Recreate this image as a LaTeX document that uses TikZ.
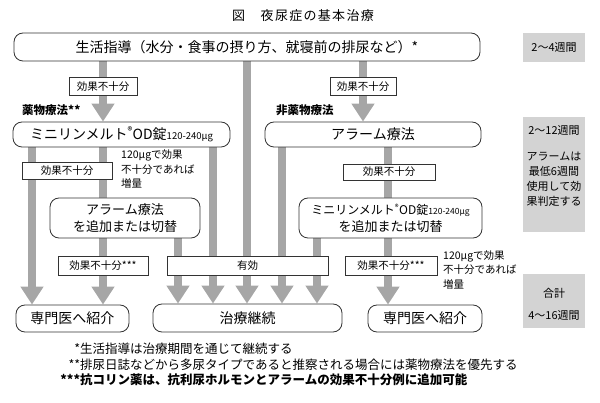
\documentclass[tikz,border=0pt]{standalone}
\usepackage{fontspec}
\setmainfont{Noto Sans CJK JP}
\newfontfamily\titlefont[LetterSpace=10]{Noto Sans CJK JP}
\usetikzlibrary{arrows.meta}
\pgfdeclarelayer{bg}
\pgfsetlayers{bg,main}
\definecolor{arrowgray}{HTML}{A6A6A6}
\definecolor{boxgray}{HTML}{D3D3D3}
\definecolor{edgegray}{HTML}{333333}
\newcommand{\fsz}[1]{\fontsize{#1}{#1}\selectfont}
\begin{document}
\begin{tikzpicture}[x=1pt,y=-1pt,
  mainbox/.style={draw=edgegray,line width=0.8pt,rounded corners=9pt,fill=white,inner sep=0pt,align=center},
  lblbox/.style={draw=edgegray,line width=0.7pt,fill=white,inner sep=0pt,align=center,font=\fsz{10.5}},
  graybox/.style={fill=boxgray,inner sep=0pt,minimum width=62pt,align=center,font=\fsz{11}},
  graytext/.style={inner sep=0pt,align=center,font=\fontsize{11}{15}\selectfont},
  notetext/.style={inner sep=0pt,align=left,font=\fontsize{10.5}{14.5}\selectfont},
  headtext/.style={inner sep=0pt,anchor=west,font=\fsz{11.5}\bfseries},
  foot/.style={inner sep=0pt,anchor=west,font=\fsz{12.5}},
  flow/.style={draw=arrowgray,line width=8pt,-{Triangle[width=22pt,length=18pt]}},
  shaft/.style={draw=arrowgray,line width=8pt}
]
\useasboundingbox (0,0) rectangle (600,403);

% title
\node[inner sep=0pt,font=\titlefont\fsz{13}] (title) at (303,16) {図　夜尿症の基本治療};

% main boxes
\node[mainbox,minimum width=466pt,minimum height=28pt,font=\fsz{14}] (top) at (247,47)
  {生活指導（水分・食事の摂り方、就寝前の排尿など）*};
\node[mainbox,minimum width=217pt,minimum height=25pt,font=\fsz{14}] (mini) at (121.5,134.5)
  {ミニリンメルト\textsuperscript{®}OD錠{\fsz{9.5}120-240μg}};
\node[mainbox,minimum width=216pt,minimum height=25pt,font=\fsz{14}] (alarm) at (373,134.5)
  {アラーム療法};
\node[mainbox,minimum width=150pt,minimum height=40pt,font=\fontsize{13}{16.5}\selectfont] (addalarm) at (125,218)
  {アラーム療法\\を追加または切替};
\node[mainbox,minimum width=183pt,minimum height=40pt,font=\fontsize{13}{16.5}\selectfont] (addmini) at (390.5,218)
  {{\fsz{12}ミニリンメルト\textsuperscript{®}OD錠{\fsz{8.5}120-240μg}}\\を追加または切替};
\node[mainbox,minimum width=113pt,minimum height=27pt,font=\fsz{14}] (sen1) at (72.5,318.5) {専門医へ紹介};
\node[mainbox,minimum width=189pt,minimum height=28pt,font=\fsz{14}] (cont) at (247.5,318) {治療継続};
\node[mainbox,minimum width=114pt,minimum height=27pt,font=\fsz{14}] (sen2) at (425,318.5) {専門医へ紹介};

% section headings
\node[headtext] (hdrug) at (22,110) {薬物療法**};
\node[headtext] (hnon) at (276,110) {非薬物療法};

% column coordinates
\coordinate (x32) at (32,0);
\coordinate (x103) at (103,0);
\coordinate (x178) at (178,0);
\coordinate (x213) at (213,0);
\coordinate (x247) at (247,0);
\coordinate (x282) at (282,0);
\coordinate (x317) at (317,0);
\coordinate (x363) at (363,0);
\coordinate (x388) at (388,0);

% connectors
\begin{pgfonlayer}{bg}
\draw[flow] (top.south -| x103) -- (mini.north -| x103);
\draw[flow] (top.south -| x363) -- (alarm.north -| x363);
\draw[flow] (top.south -| x247) -- (cont.north -| x247);
\draw[flow] (mini.south -| x32) -- (sen1.north -| x32);
\draw[shaft] (mini.south -| x103) -- (addalarm.north -| x103);
\draw[flow] (mini.south -| x213) -- (cont.north -| x213);
\draw[flow] (addalarm.south -| x103) -- (sen1.north -| x103);
\draw[flow] (addalarm.south -| x178) -- (cont.north -| x178);
\draw[flow] (alarm.south -| x282) -- (cont.north -| x282);
\draw[shaft] (alarm.south -| x388) -- (addmini.north -| x388);
\draw[flow] (addmini.south -| x317) -- (cont.north -| x317);
\draw[flow] (addmini.south -| x388) -- (sen2.north -| x388);
\end{pgfonlayer}

% labels on connectors
\node[lblbox,minimum width=68pt,minimum height=18pt] (l1) at (103,86.5) {効果不十分};
\node[lblbox,minimum width=66pt,minimum height=18pt] (l2) at (363,86.5) {効果不十分};
\node[lblbox,minimum width=90pt,minimum height=17pt] (l3) at (67,170.5) {効果不十分};
\node[lblbox,minimum width=92pt,minimum height=16pt] (l4) at (389,172) {効果不十分};
\node[lblbox,minimum width=90pt,minimum height=19pt] (l5) at (103,265.5) {効果不十分***};
\node[lblbox,minimum width=161pt,minimum height=19pt] (yuko) at (247.5,265.5) {有効};
\node[lblbox,minimum width=92pt,minimum height=19pt] (l6) at (391,265.5) {効果不十分***};

% notes
\node[notetext,anchor=west] (n1) at (121,169.5) {120μgで効果\\不十分であれば\\増量};
\node[notetext,anchor=west] (n2) at (443,270) {120μgで効果\\不十分であれば\\増量};

% right gray boxes
\node[graybox,minimum height=29pt] (g1) at (554,47.5) {2〜4週間};
\node[graybox,minimum height=115pt] (g2) at (554,174.5) {};
\node[graytext] (g2a) at (554,130) {2〜12週間};
\node[graytext] (g2b) at (554,179) {アラームは\\最低6週間\\使用して効\\果判定する};
\node[graybox,minimum height=54pt] (g3) at (554,301) {};
\node[graytext] (g3a) at (554,293) {合計};
\node[graytext] (g3b) at (554,315) {4〜16週間};

% footnotes
\node[foot] (f1) at (80,349) {\llap{*}生活指導は治療期間を通じて継続する};
\node[foot] (f2) at (80,364.5) {\llap{**}排尿日誌などから多尿タイプであると推察される場合には薬物療法を優先する};
\node[foot,font=\fsz{12.5}\bfseries] (f3) at (80,380) {\llap{***}抗コリン薬は、抗利尿ホルモンとアラームの効果不十分例に追加可能};
\end{tikzpicture}
\end{document}
